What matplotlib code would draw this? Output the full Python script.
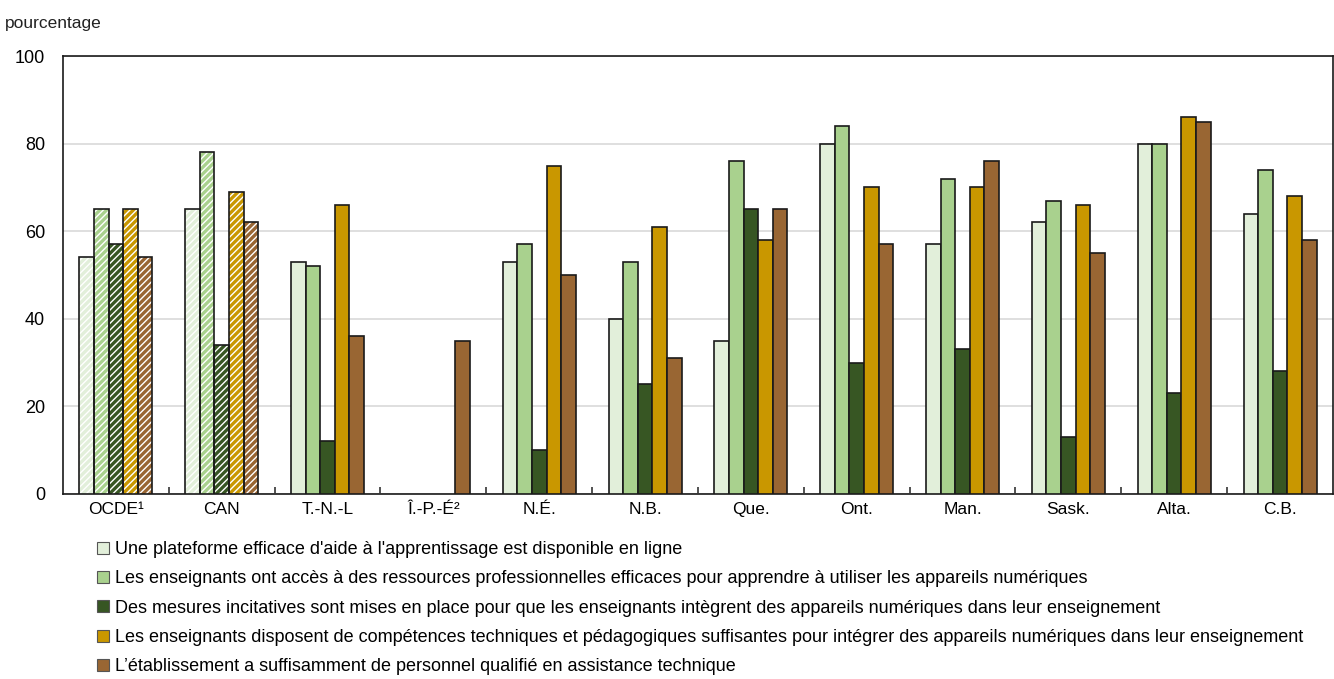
import numpy as np
import matplotlib
matplotlib.use("Agg")
import matplotlib.pyplot as plt
from matplotlib.patches import Patch
from matplotlib import font_manager

names = {f.name for f in font_manager.fontManager.ttflist}
base_font = "Liberation Sans Narrow" if "Liberation Sans Narrow" in names else "Liberation Sans"
plt.rcParams["font.family"] = [base_font, "DejaVu Sans"]
plt.rcParams["hatch.linewidth"] = 1.0

categories = ["OCDE¹", "CAN", "T.-N.-L", "Î.-P.-É²", "N.É.", "N.B.", "Que.", "Ont.",
              "Man.", "Sask.", "Alta.", "C.B."]

plateforme = [54, 65, 53, np.nan, 53, 40, 35, 80, 57, 62, 80, 64]
ressources = [65, 78, 52, np.nan, 57, 53, 76, 84, 72, 67, 80, 74]
incitatives = [57, 34, 12, np.nan, 10, 25, 65, 30, 33, 13, 23, 28]
competences = [65, 69, 66, np.nan, 75, 61, 58, 70, 70, 66, 86, 68]
personnel = [54, 62, 36, 35, 50, 31, 65, 57, 76, 55, 85, 58]

series_labels = [
    "Une plateforme efficace d'aide à l'apprentissage est disponible en ligne",
    "Les enseignants ont accès à des ressources professionnelles efficaces pour apprendre à utiliser les appareils numériques",
    "Des mesures incitatives sont mises en place pour que les enseignants intègrent des appareils numériques dans leur enseignement",
    "Les enseignants disposent de compétences techniques et pédagogiques suffisantes pour intégrer des appareils numériques dans leur enseignement",
    "L’établissement a suffisamment de personnel qualifié en assistance technique",
]
colors = ["#e2efda", "#a9d18e", "#375623", "#c99700", "#996633"]
hatched_groups = [0, 1]

series = [plateforme, ressources, incitatives, competences, personnel]

fig = plt.figure(figsize=(13.34, 6.79), dpi=100)
ax = fig.add_axes([0.0472, 0.2725, 0.9520, 0.6450])

n = len(series)
width = 0.138
x = np.arange(len(categories))
for i, (vals, col) in enumerate(zip(series, colors)):
    vals = np.array(vals, dtype=float)
    pos = x + (i - (n - 1) / 2) * width
    plain = np.array([j not in hatched_groups for j in range(len(categories))])
    ax.bar(pos[plain], vals[plain], width, color=col, edgecolor="#1a1a1a",
           linewidth=1.2, zorder=3)
    # hatched bars: colour with white stripes, then a dark outline
    hp = ~plain
    ax.bar(pos[hp], vals[hp], width, color=col, edgecolor="white", hatch="/////",
           linewidth=0, zorder=3)
    ax.bar(pos[hp], vals[hp], width, fill=False, edgecolor="#1a1a1a",
           linewidth=1.2, zorder=4)

ax.set_xlim(-0.5, len(categories) - 0.5)
ax.set_ylim(0, 100)
ax.set_yticks([0, 20, 40, 60, 80, 100])
ax.tick_params(axis="y", length=0, labelsize=13, pad=13)
ax.set_xticks(x)
ax.set_xticklabels(categories)
ax.tick_params(axis="x", which="major", length=0, labelsize=12.5, pad=6)
ax.set_xticks(np.arange(0.5, len(categories) - 0.5, 1), minor=True)
ax.tick_params(axis="x", which="minor", direction="in", length=5, width=1.2, color="#333333")
ax.yaxis.grid(True, color="#d9d9d9", linewidth=1.2, zorder=0)
ax.set_axisbelow(True)
for s in ax.spines.values():
    s.set_color("#1a1a1a")
    s.set_linewidth(1.2)

fig.text(0.004, 0.965, "pourcentage", fontsize=12.5, ha="left", va="center", color="#222222")

handles = [Patch(facecolor=c, edgecolor="#555555", linewidth=0.8) for c in colors]
leg = fig.legend(handles, series_labels, loc="upper left", bbox_to_anchor=(0.073, 0.203),
                 frameon=False, fontsize=13, handlelength=0.65, handleheight=0.65,
                 handletextpad=0.3, labelspacing=0.68, borderaxespad=0, borderpad=0)

fig.savefig("out.png", dpi=100)
